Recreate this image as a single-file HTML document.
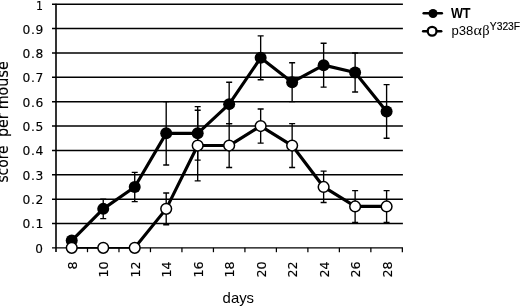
<!DOCTYPE html>
<html><head><meta charset="utf-8"><title>chart</title>
<style>
html,body{margin:0;padding:0;background:#fff;}
body{width:520px;height:306px;overflow:hidden;}
svg{display:block;}
.v{font-family:"DejaVu Sans","Liberation Sans",sans-serif;fill:#000;}
.a{font-family:"Liberation Sans",sans-serif;fill:#000;}
.s{font-family:"Liberation Serif","DejaVu Serif",serif;fill:#000;}
</style></head><body>
<svg width="520" height="306" viewBox="0 0 520 306">
<rect width="520" height="306" fill="#fff"/>

<g stroke="#000" stroke-width="1.5" fill="none">
<line x1="52.0" y1="223.49" x2="402.9" y2="223.49"/>
<line x1="52.0" y1="199.13" x2="402.9" y2="199.13"/>
<line x1="52.0" y1="174.77" x2="402.9" y2="174.77"/>
<line x1="52.0" y1="150.41" x2="402.9" y2="150.41"/>
<line x1="52.0" y1="126.05" x2="402.9" y2="126.05"/>
<line x1="52.0" y1="101.69" x2="402.9" y2="101.69"/>
<line x1="52.0" y1="77.33" x2="402.9" y2="77.33"/>
<line x1="52.0" y1="52.97" x2="402.9" y2="52.97"/>
<line x1="52.0" y1="28.61" x2="402.9" y2="28.61"/>
<line x1="52.0" y1="4.25" x2="402.9" y2="4.25"/>
</g>
<g stroke="#000" fill="none">
<line x1="56.0" y1="3.65" x2="56.0" y2="252.1" stroke-width="1.6"/>
<line x1="52.0" y1="247.85" x2="402.9" y2="247.85" stroke-width="1.3"/>
<line x1="87.49" y1="247.85" x2="87.49" y2="252.2" stroke-width="1.25"/>
<line x1="118.97" y1="247.85" x2="118.97" y2="252.2" stroke-width="1.25"/>
<line x1="150.46" y1="247.85" x2="150.46" y2="252.2" stroke-width="1.25"/>
<line x1="181.94" y1="247.85" x2="181.94" y2="252.2" stroke-width="1.25"/>
<line x1="213.43" y1="247.85" x2="213.43" y2="252.2" stroke-width="1.25"/>
<line x1="244.92" y1="247.85" x2="244.92" y2="252.2" stroke-width="1.25"/>
<line x1="276.40" y1="247.85" x2="276.40" y2="252.2" stroke-width="1.25"/>
<line x1="307.89" y1="247.85" x2="307.89" y2="252.2" stroke-width="1.25"/>
<line x1="339.37" y1="247.85" x2="339.37" y2="252.2" stroke-width="1.25"/>
<line x1="370.86" y1="247.85" x2="370.86" y2="252.2" stroke-width="1.25"/>
<line x1="402.35" y1="247.85" x2="402.35" y2="252.2" stroke-width="1.25"/>
</g>
<g class="v" font-size="12.8" text-anchor="end" stroke="#000" stroke-width="0.15">
<text transform="translate(43.0,252.75) scale(0.94,1)">0</text>
<text transform="translate(43.85,228.39) scale(0.96,1)" letter-spacing="0.6">0.1</text>
<text transform="translate(43.85,204.03) scale(0.96,1)" letter-spacing="0.6">0.2</text>
<text transform="translate(43.85,179.67) scale(0.96,1)" letter-spacing="0.6">0.3</text>
<text transform="translate(43.85,155.31) scale(0.96,1)" letter-spacing="0.6">0.4</text>
<text transform="translate(43.85,130.95) scale(0.96,1)" letter-spacing="0.6">0.5</text>
<text transform="translate(43.85,106.59) scale(0.96,1)" letter-spacing="0.6">0.6</text>
<text transform="translate(43.85,82.23) scale(0.96,1)" letter-spacing="0.6">0.7</text>
<text transform="translate(43.85,57.87) scale(0.96,1)" letter-spacing="0.6">0.8</text>
<text transform="translate(43.85,33.51) scale(0.96,1)" letter-spacing="0.6">0.9</text>
<text transform="translate(43.0,9.65) scale(0.86,1)">1</text>
</g>
<g class="v" font-size="12.8" text-anchor="end" stroke="#000" stroke-width="0.15">
<text transform="translate(76.74,261.5) rotate(-90) scale(0.99,1)">8</text>
<text transform="translate(108.23,261.5) rotate(-90) scale(0.99,1)">10</text>
<text transform="translate(139.72,261.5) rotate(-90) scale(0.99,1)">12</text>
<text transform="translate(171.20,261.5) rotate(-90) scale(0.99,1)">14</text>
<text transform="translate(202.69,261.5) rotate(-90) scale(0.99,1)">16</text>
<text transform="translate(234.17,261.5) rotate(-90) scale(0.99,1)">18</text>
<text transform="translate(265.66,261.5) rotate(-90) scale(0.99,1)">20</text>
<text transform="translate(297.14,261.5) rotate(-90) scale(0.99,1)">22</text>
<text transform="translate(328.63,261.5) rotate(-90) scale(0.99,1)">24</text>
<text transform="translate(360.12,261.5) rotate(-90) scale(0.99,1)">26</text>
<text transform="translate(391.60,261.5) rotate(-90) scale(0.99,1)">28</text>
</g>
<text class="a" font-size="14.2" transform="translate(222.6,302.6) scale(1.05,1)">days</text>
<g class="v" font-size="14.3" stroke="#000" stroke-width="0.15">
<text transform="translate(8.25,182.6) rotate(-90) scale(0.97,1.05)">score</text>
<text transform="translate(8.25,137.1) rotate(-90) scale(1,1.05)">per</text>
<text transform="translate(8.25,109.3) rotate(-90) scale(1.0,1.05)">mouse</text>
</g>
<g stroke="#000" stroke-width="1.35" fill="none">
<path d="M103.23 218.62V199.13M100.23 218.62h6M100.23 199.13h6"/>
<path d="M134.72 201.57V172.33M131.72 201.57h6M131.72 172.33h6"/>
<path d="M166.20 165.03V101.69M163.20 165.03h6M163.20 101.69h6"/>
<path d="M166.20 224.71V193.04M163.20 224.71h6M163.20 193.04h6"/>
<path d="M197.69 160.15V106.56M194.69 160.15h6M194.69 106.56h6"/>
<path d="M197.69 180.86V110.22M194.69 180.86h6M194.69 110.22h6"/>
<path d="M229.17 123.61V82.20M226.17 123.61h6M226.17 82.20h6"/>
<path d="M229.17 167.46V123.61M226.17 167.46h6M226.17 123.61h6"/>
<path d="M260.66 79.77V35.92M257.66 79.77h6M257.66 35.92h6"/>
<path d="M260.66 143.10V109.00M257.66 143.10h6M257.66 109.00h6"/>
<path d="M292.14 101.69V62.71M289.14 101.69h6M289.14 62.71h6"/>
<path d="M292.14 167.46V123.61M289.14 167.46h6M289.14 123.61h6"/>
<path d="M323.63 87.07V43.23M320.63 87.07h6M320.63 43.23h6"/>
<path d="M323.63 202.54V171.12M320.63 202.54h6M320.63 171.12h6"/>
<path d="M355.12 91.95V52.97M352.12 91.95h6M352.12 52.97h6"/>
<path d="M355.12 222.52V190.60M352.12 222.52h6M352.12 190.60h6"/>
<path d="M386.60 138.23V84.64M383.60 138.23h6M383.60 84.64h6"/>
<path d="M386.60 222.52V190.60M383.60 222.52h6M383.60 190.60h6"/>
</g>
<polyline points="71.74,240.54 103.23,208.87 134.72,186.95 166.20,133.36 197.69,133.36 229.17,104.13 260.66,57.84 292.14,82.20 323.63,65.15 355.12,72.46 386.60,111.43" fill="none" stroke="#000" stroke-width="3.15" stroke-linejoin="round"/>
<line x1="71.74" y1="247.85" x2="134.72" y2="247.85" stroke="#000" stroke-width="1.8"/>
<polyline points="134.72,247.85 166.20,208.87 197.69,145.54 229.17,145.54 260.66,126.05 292.14,145.54 323.63,186.95 355.12,206.44 386.60,206.44" fill="none" stroke="#000" stroke-width="3.15" stroke-linejoin="round"/>
<g fill="#000">
<circle cx="71.74" cy="240.54" r="6.0"/>
<circle cx="103.23" cy="208.87" r="6.0"/>
<circle cx="134.72" cy="186.95" r="6.0"/>
<circle cx="166.20" cy="133.36" r="6.0"/>
<circle cx="197.69" cy="133.36" r="6.0"/>
<circle cx="229.17" cy="104.13" r="6.0"/>
<circle cx="260.66" cy="57.84" r="6.0"/>
<circle cx="292.14" cy="82.20" r="6.0"/>
<circle cx="323.63" cy="65.15" r="6.0"/>
<circle cx="355.12" cy="72.46" r="6.0"/>
<circle cx="386.60" cy="111.43" r="6.0"/>
</g>
<g fill="#fff" stroke="#000" stroke-width="1.5">
<circle cx="71.74" cy="247.85" r="5.35"/>
<circle cx="103.23" cy="247.85" r="5.35"/>
<circle cx="134.72" cy="247.85" r="5.35"/>
<circle cx="166.20" cy="208.87" r="5.35"/>
<circle cx="197.69" cy="145.54" r="5.35"/>
<circle cx="229.17" cy="145.54" r="5.35"/>
<circle cx="260.66" cy="126.05" r="5.35"/>
<circle cx="292.14" cy="145.54" r="5.35"/>
<circle cx="323.63" cy="186.95" r="5.35"/>
<circle cx="355.12" cy="206.44" r="5.35"/>
<circle cx="386.60" cy="206.44" r="5.35"/>
</g>
<line x1="423.7" y1="13.35" x2="441.8" y2="13.35" stroke="#000" stroke-width="2.5" stroke-linecap="round"/>
<circle cx="433.0" cy="13.45" r="4.5" fill="#000"/>
<line x1="423.2" y1="31.3" x2="441.2" y2="31.3" stroke="#000" stroke-width="2.5" stroke-linecap="round"/>
<circle cx="432.1" cy="31.25" r="4.4" fill="#fff" stroke="#000" stroke-width="2.3"/>
<text class="a" font-size="14" font-weight="bold" x="450.9" y="18.1" textLength="19.7" lengthAdjust="spacingAndGlyphs">WT</text>
<text x="451.4" y="35.0" class="a" font-size="13.1">p38</text>
<text class="s" font-size="14.7" transform="translate(473.4,35.0) scale(1.1,1)">α</text>
<text class="s" font-size="14.7" transform="translate(482.2,35.0) scale(0.99,1)">β</text>
<text x="489.8" y="29.5" class="a" font-size="10.3" stroke="#000" stroke-width="0.15">Y323F</text>
</svg>
</body></html>
